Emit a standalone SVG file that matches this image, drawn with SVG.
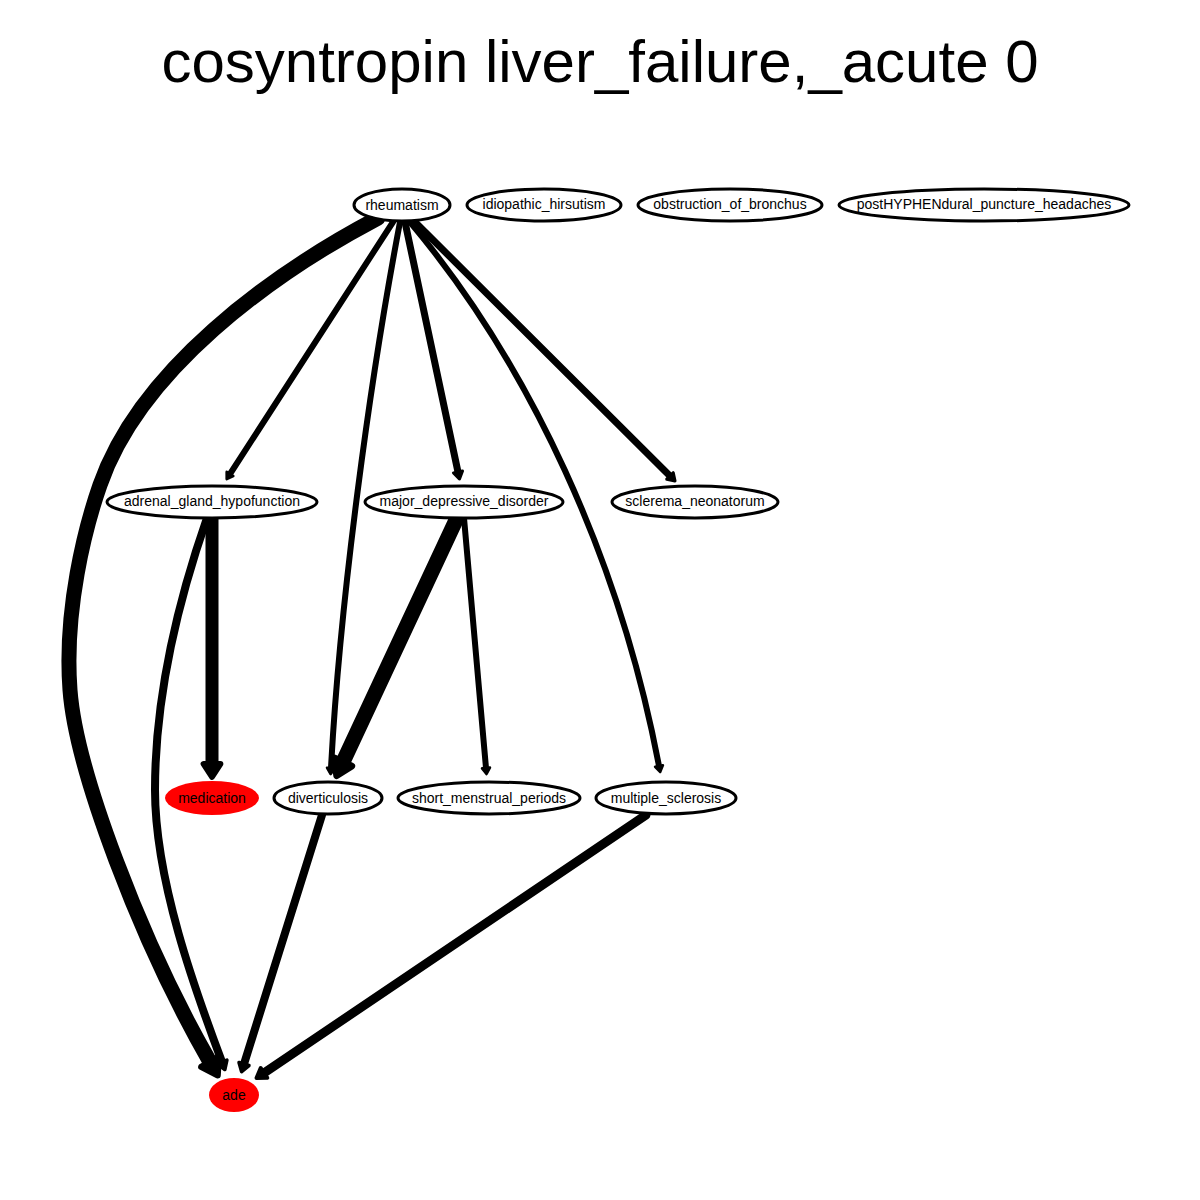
<svg xmlns="http://www.w3.org/2000/svg" width="1200" height="1200" viewBox="0 0 1200 1200">
<style>
.node ellipse{fill:#fff;stroke:#000;stroke-width:3}
.node.red ellipse{fill:#ff0000;stroke:none}
.node text{font-family:"Liberation Sans",Arial,sans-serif;font-size:14px;text-anchor:middle;fill:#000}
.title{font-family:"Liberation Sans",Arial,sans-serif;font-size:60px;text-anchor:middle;fill:#000}
.edges path{fill:none;stroke:#000;stroke-linecap:round;stroke-linejoin:round;marker-end:url(#arr)}
</style>
<defs>
<marker id="arr" markerUnits="strokeWidth" markerWidth="2" markerHeight="2.4" viewBox="-0.2 -1.2 2 2.4" refX="0" refY="0" orient="auto" overflow="visible">
<path d="M0,-0.65 L1,0 L0,0.65 z" fill="#000" stroke="#000" stroke-width="0.45" stroke-linejoin="round"/>
</marker>
</defs>
<rect width="1200" height="1200" fill="#fff"/>
<text class="title" x="600" y="82">cosyntropin liver_failure,_acute 0</text>
<g class="edges">
<path d="M378,218 C270,275 140,370 100,485 C85,528 64,610 70,690 C76,770 140,940 210,1062" stroke-width="15"/>
<path d="M393,222 L230,474" stroke-width="6"/>
<path d="M400,222 C370,380 340,600 331,768" stroke-width="6"/>
<path d="M405,222 L458,472" stroke-width="7"/>
<path d="M410,222 C530,365 620,560 659,766" stroke-width="6"/>
<path d="M415,222 L670,476" stroke-width="7"/>
<path d="M212,518 L212,764" stroke-width="13"/>
<path d="M207,518 C175,610 155,700 155,790 C155,880 195,990 222,1062" stroke-width="8"/>
<path d="M457,518 L343,762" stroke-width="15"/>
<path d="M464,518 L486,768" stroke-width="6"/>
<path d="M322,815 L244,1064" stroke-width="8"/>
<path d="M646,815 L264,1073" stroke-width="9"/>
</g>
<g id="rheumatism" class="node"><ellipse cx="402" cy="205" rx="48" ry="16"/><text x="402" y="210">rheumatism</text></g>
<g id="idiopathic_hirsutism" class="node"><ellipse cx="544" cy="205" rx="77" ry="16"/><text x="544" y="209">idiopathic_hirsutism</text></g>
<g id="obstruction_of_bronchus" class="node"><ellipse cx="730" cy="205" rx="92" ry="16"/><text x="730" y="209">obstruction_of_bronchus</text></g>
<g id="postHYPHENdural_puncture_headaches" class="node"><ellipse cx="984" cy="205" rx="145" ry="16"/><text x="984" y="209">postHYPHENdural_puncture_headaches</text></g>
<g id="adrenal_gland_hypofunction" class="node"><ellipse cx="212" cy="502" rx="105" ry="16"/><text x="212" y="506">adrenal_gland_hypofunction</text></g>
<g id="major_depressive_disorder" class="node"><ellipse cx="464" cy="502" rx="99" ry="16"/><text x="464" y="506">major_depressive_disorder</text></g>
<g id="sclerema_neonatorum" class="node"><ellipse cx="695" cy="502" rx="83" ry="16"/><text x="695" y="506">sclerema_neonatorum</text></g>
<g id="medication" class="node red"><ellipse cx="212" cy="798" rx="47" ry="17"/><text x="212" y="803">medication</text></g>
<g id="diverticulosis" class="node"><ellipse cx="328" cy="798" rx="54" ry="16"/><text x="328" y="803">diverticulosis</text></g>
<g id="short_menstrual_periods" class="node"><ellipse cx="489" cy="798" rx="91" ry="16"/><text x="489" y="803">short_menstrual_periods</text></g>
<g id="multiple_sclerosis" class="node"><ellipse cx="666" cy="798" rx="70" ry="16"/><text x="666" y="803">multiple_sclerosis</text></g>
<g id="ade" class="node red"><ellipse cx="234" cy="1095" rx="25" ry="17"/><text x="234" y="1100">ade</text></g>
</svg>
